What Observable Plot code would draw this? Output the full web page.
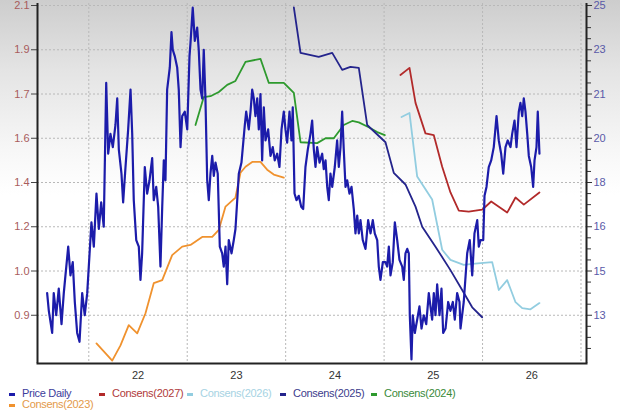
<!DOCTYPE html>
<html><head><meta charset="utf-8">
<script src="https://cdn.jsdelivr.net/npm/d3@7"></script>
<script src="https://cdn.jsdelivr.net/npm/@observablehq/plot@0.6"></script>
<style>
html,body{margin:0;padding:0;}
body{width:620px;height:410px;overflow:hidden;background:linear-gradient(to bottom,#cdcdcd 0px,#e4e4e4 70px,#f7f7f7 150px,#fff 195px,#fff 410px);font-family:"Liberation Sans",Arial,sans-serif;}
#chart{position:relative;width:620px;height:385px;}
#chart svg{position:absolute;left:0;top:0;background:transparent;}
#legend{position:relative;width:620px;height:25px;font-size:11px;letter-spacing:-0.3px;}
.item{position:absolute;white-space:nowrap;line-height:12px;}
.item i{display:inline-block;width:6px;height:3px;margin-right:7px;vertical-align:middle;}
</style></head><body>
<div id="chart"></div><div id="legend"></div>
<script>
// ---- data (decimal year, value) ----
const priceDaily = [[2021.577,0.95],[2021.594,0.91],[2021.628,0.86],[2021.644,0.95],[2021.669,0.90],[2021.695,0.96],[2021.723,0.88],[2021.746,0.95],[2021.763,0.99],[2021.791,1.11],[2021.814,0.99],[2021.837,1.04],[2021.858,0.93],[2021.882,0.86],[2021.906,0.84],[2021.933,0.95],[2021.959,0.90],[2021.984,0.95],[2022.000,1.02],[2022.027,1.22],[2022.051,1.11],[2022.078,1.35],[2022.102,1.19],[2022.126,1.31],[2022.152,1.20],[2022.177,1.75],[2022.197,1.53],[2022.220,1.61],[2022.244,1.56],[2022.271,1.63],[2022.289,1.69],[2022.305,1.55],[2022.332,1.44],[2022.349,1.31],[2022.373,1.47],[2022.400,1.62],[2022.424,1.72],[2022.441,1.61],[2022.457,1.32],[2022.482,1.14],[2022.508,1.11],[2022.525,0.98],[2022.542,1.08],[2022.569,1.47],[2022.593,1.35],[2022.617,1.41],[2022.644,1.51],[2022.660,1.32],[2022.685,1.38],[2022.705,1.29],[2022.728,1.02],[2022.746,1.29],[2022.762,1.50],[2022.779,1.41],[2022.796,1.72],[2022.823,1.82],[2022.840,1.98],[2022.853,1.90],[2022.874,1.87],[2022.898,1.82],[2022.914,1.72],[2022.932,1.56],[2022.949,1.65],[2022.975,1.66],[2023.000,1.62],[2023.023,1.87],[2023.033,1.93],[2023.056,2.09],[2023.077,1.94],[2023.101,2.00],[2023.117,1.90],[2023.135,1.72],[2023.152,1.69],[2023.168,1.90],[2023.185,1.69],[2023.203,1.41],[2023.219,1.32],[2023.236,1.44],[2023.254,1.52],[2023.270,1.43],[2023.287,1.49],[2023.310,1.44],[2023.331,1.11],[2023.355,1.08],[2023.371,1.02],[2023.389,1.11],[2023.406,0.97],[2023.422,1.14],[2023.450,1.08],[2023.473,1.14],[2023.490,1.19],[2023.508,1.32],[2023.524,1.44],[2023.551,1.49],[2023.585,1.63],[2023.599,1.66],[2023.625,1.62],[2023.643,1.66],[2023.660,1.72],[2023.676,1.69],[2023.693,1.65],[2023.711,1.69],[2023.727,1.62],[2023.744,1.70],[2023.761,1.50],[2023.778,1.67],[2023.795,1.59],[2023.822,1.62],[2023.846,1.52],[2023.869,1.56],[2023.889,1.50],[2023.914,1.53],[2023.937,1.47],[2023.958,1.62],[2023.981,1.66],[2023.998,1.62],[2024.015,1.58],[2024.039,1.66],[2024.059,1.59],[2024.072,1.67],[2024.090,1.35],[2024.110,1.32],[2024.133,1.34],[2024.158,1.29],[2024.178,1.28],[2024.201,1.47],[2024.225,1.55],[2024.252,1.61],[2024.269,1.64],[2024.286,1.55],[2024.303,1.47],[2024.320,1.56],[2024.344,1.49],[2024.371,1.53],[2024.387,1.46],[2024.405,1.50],[2024.422,1.38],[2024.438,1.32],[2024.455,1.44],[2024.473,1.38],[2024.499,1.47],[2024.523,1.59],[2024.540,1.47],[2024.557,1.56],[2024.574,1.66],[2024.590,1.55],[2024.608,1.38],[2024.625,1.41],[2024.648,1.35],[2024.669,1.38],[2024.692,1.28],[2024.709,1.17],[2024.727,1.25],[2024.743,1.17],[2024.760,1.23],[2024.783,1.14],[2024.811,1.10],[2024.838,1.23],[2024.862,1.17],[2024.885,1.23],[2024.905,1.17],[2024.930,1.14],[2024.946,1.02],[2024.963,0.98],[2024.987,1.04],[2025.014,1.04],[2025.031,1.02],[2025.048,1.11],[2025.065,0.99],[2025.088,1.04],[2025.109,1.22],[2025.133,1.14],[2025.156,1.05],[2025.184,1.02],[2025.200,0.98],[2025.217,1.08],[2025.235,1.10],[2025.251,1.08],[2025.261,0.90],[2025.278,0.80],[2025.291,0.90],[2025.312,0.86],[2025.336,0.89],[2025.359,0.92],[2025.380,0.87],[2025.403,0.90],[2025.428,0.88],[2025.454,0.95],[2025.471,0.92],[2025.488,0.89],[2025.505,0.95],[2025.522,0.90],[2025.539,0.97],[2025.563,0.90],[2025.583,0.96],[2025.600,0.86],[2025.624,0.87],[2025.651,0.93],[2025.674,0.91],[2025.698,0.93],[2025.718,0.89],[2025.742,0.95],[2025.766,0.93],[2025.776,0.87],[2025.809,0.93],[2025.844,1.08],[2025.870,1.14],[2025.895,0.99],[2025.918,1.17],[2025.946,1.23],[2025.962,1.11],[2025.979,1.14],[2026.007,1.14],[2026.020,1.34],[2026.040,1.38],[2026.063,1.47],[2026.088,1.50],[2026.114,1.56],[2026.142,1.65],[2026.165,1.59],[2026.189,1.53],[2026.210,1.44],[2026.233,1.56],[2026.256,1.59],[2026.284,1.56],[2026.301,1.61],[2026.325,1.64],[2026.345,1.56],[2026.368,1.66],[2026.385,1.68],[2026.403,1.65],[2026.419,1.69],[2026.436,1.66],[2026.454,1.61],[2026.470,1.52],[2026.494,1.47],[2026.514,1.38],[2026.528,1.50],[2026.548,1.56],[2026.561,1.66],[2026.578,1.53]];

const consens2027 = [[2025.166,21.86],[2025.258,22.18],[2025.319,20.80],[2025.420,20.11],[2025.505,20.07],[2025.590,18.71],[2025.674,17.55],[2025.759,16.73],[2025.860,16.68],[2025.996,16.77],[2026.088,17.14],[2026.250,16.64],[2026.335,17.32],[2026.419,17.00],[2026.578,17.55]];
const consens2026 = [[2025.177,20.48],[2025.258,20.57],[2025.336,18.27],[2025.488,17.23],[2025.590,15.48],[2025.674,15.25],[2025.809,15.14],[2025.895,15.16],[2026.098,15.20],[2026.165,14.14],[2026.250,14.59],[2026.335,13.59],[2026.403,13.32],[2026.487,13.27],[2026.578,13.55]];
const consens2025 = [[2024.083,24.91],[2024.151,22.86],[2024.336,22.68],[2024.473,22.86],[2024.574,22.09],[2024.658,22.23],[2024.743,22.18],[2024.828,20.30],[2025.014,19.82],[2025.098,18.44],[2025.217,17.91],[2025.319,16.91],[2025.387,16.00],[2025.522,15.55],[2025.674,15.02],[2025.793,14.14],[2025.895,13.36],[2025.996,12.91]];
const consens2024 = [[2023.084,20.30],[2023.168,20.93],[2023.236,20.95],[2023.321,21.09],[2023.406,21.41],[2023.490,21.59],[2023.592,22.45],[2023.744,22.59],[2023.829,21.50],[2023.981,21.50],[2024.083,21.05],[2024.151,19.82],[2024.320,19.78],[2024.405,20.00],[2024.489,20.00],[2024.590,20.30],[2024.676,20.39],[2024.743,20.36],[2024.844,20.25],[2024.930,20.14],[2025.007,20.07]];
const consens2023 = [[2022.078,11.73],[2022.238,10.95],[2022.322,11.64],[2022.406,12.55],[2022.492,12.18],[2022.576,13.09],[2022.660,14.45],[2022.746,14.59],[2022.847,15.36],[2022.949,15.55],[2023.033,15.59],[2023.152,15.77],[2023.254,15.77],[2023.321,15.93],[2023.389,16.91],[2023.490,17.32],[2023.541,18.44],[2023.592,18.71],[2023.660,18.93],[2023.744,18.93],[2023.812,18.58],[2023.879,18.36],[2023.981,18.22]];

const leftTicks = [0.9,1.0,1.2,1.4,1.6,1.7,1.9,2.1];
const rightTicks = [13,15,16,18,20,21,23,25];
const yearLines = [2022,2023,2024,2025,2026,2027];
const xTickPos = [2022.5,2023.5,2024.5,2025.5,2026.5];
const xTickLabels = ["22","23","24","25","26"];

const series = [
  {name:"Price Daily", color:"#1c1caa", text:"#3c3c9c"},
  {name:"Consens(2027)", color:"#b22a2a", text:"#b03a3a", data:consens2027},
  {name:"Consens(2026)", color:"#92cde0", text:"#a6d3e3", data:consens2026},
  {name:"Consens(2025)", color:"#24248c", text:"#3c3c8c", data:consens2025},
  {name:"Consens(2024)", color:"#2e9a2e", text:"#3a8a3a", data:consens2024},
  {name:"Consens(2023)", color:"#f0922e", text:"#e39a4a", data:consens2023}
];

// ---- layout ----
const W=620,H=385,ML=37,MR=34,MT=3,MB=22;
const xDomain=[2021.479,2027.056];
const leftDomain=[0.8].concat(leftTicks);
const rightDomain=[11].concat(rightTicks);
const yBottom=H-MB-4, yTop=5;
const yRange=leftDomain.map((d,i)=>yBottom+(yTop-yBottom)*i/(leftDomain.length-1));
const minorRight=[];
for(let i=0;i<rightDomain.length-1;i++) for(let k=1;k<4;k++) minorRight.push(rightDomain[i]+(rightDomain[i+1]-rightDomain[i])*k/4);

const common={width:W,height:H,marginLeft:ML,marginRight:MR,marginTop:MT,marginBottom:MB,
  style:{background:"transparent",fontFamily:"Liberation Sans, Arial, sans-serif",fontSize:"11px",overflow:"visible"}};
const grid={stroke:"#b8b8b8",strokeDasharray:"2,2",strokeWidth:1,strokeOpacity:1};

const back=Plot.plot({...common,
  x:{domain:xDomain,axis:null},
  y:{type:"linear",domain:rightDomain,range:yRange},
  marks:[
    Plot.ruleY(rightTicks,grid),
    Plot.ruleX(yearLines,grid),
    ...series.slice(1).reverse().map(s=>Plot.line(s.data,{x:d=>d[0],y:d=>d[1],stroke:s.color,strokeWidth:1.8})),
    Plot.axisY(minorRight,{anchor:"right",tickSize:4,tickFormat:()=>"",label:null,stroke:"#333"}),
    Plot.axisY(rightTicks,{anchor:"right",tickSize:5,tickPadding:2,tickFormat:d3.format("d"),label:null,stroke:"#333",fill:"#5a5aa8"}),
    Plot.ruleX([xDomain[1]],{stroke:"#222",strokeWidth:2})
  ]});

const front=Plot.plot({...common,
  x:{domain:xDomain},
  y:{type:"linear",domain:leftDomain,range:yRange},
  marks:[
    Plot.line(priceDaily,{x:d=>d[0],y:d=>d[1],stroke:series[0].color,strokeWidth:2.2}),
    Plot.axisY(leftTicks,{anchor:"left",tickSize:6,tickPadding:2,tickFormat:d3.format(".1f"),label:null,stroke:"#444",fill:"#a85c5c"}),
    Plot.axisX(xTickPos,{anchor:"bottom",tickSize:0,tickPadding:8,tickFormat:(d,i)=>xTickLabels[xTickPos.indexOf(d)],label:null,fill:"#333"}),
    Plot.ruleX([xDomain[0]],{stroke:"#222",strokeWidth:2}),
    Plot.frame({anchor:"bottom",stroke:"#222",strokeWidth:2})
  ]});

const chart=document.getElementById("chart");
chart.appendChild(back);
chart.appendChild(front);

// ---- legend ----
const legendPos=[[9,2],[99,2],[187,2],[280,2],[371,2],[9,13]];
const legend=document.getElementById("legend");
series.forEach((s,i)=>{
  const d=document.createElement("div");
  d.className="item";
  d.style.left=legendPos[i][0]+"px";
  d.style.top=legendPos[i][1]+"px";
  d.style.color=s.text;
  const m=document.createElement("i");
  m.style.background=s.color;
  d.appendChild(m);
  d.appendChild(document.createTextNode(s.name));
  legend.appendChild(d);
});
</script>
</body></html>
